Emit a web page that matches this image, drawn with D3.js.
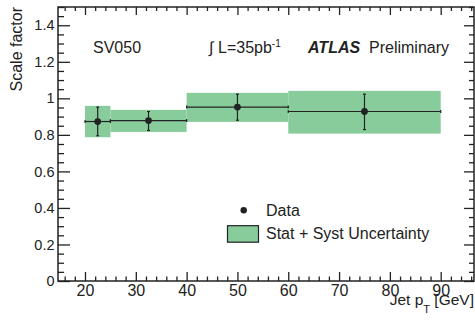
<!DOCTYPE html>
<html>
<head>
<meta charset="utf-8">
<script src="https://cdn.jsdelivr.net/npm/d3@7"></script>
<style>
  body { margin: 0; background: #fff; }
  svg text { font-family: "Liberation Sans", Arial, Helvetica, sans-serif; fill: #222; }
</style>
</head>
<body>
<div id="chart"></div>
<script>
// bins in jet pT [GeV]
var binLo = [20, 25, 40, 60];
var binHi = [25, 40, 60, 90];
var binCenter = [22.5, 32.5, 50, 75];
// scale factor and stat error bar ends
var scaleFactor = [0.873, 0.878, 0.952, 0.928];
var statHi = [0.952, 0.928, 1.023, 1.023];
var statLo = [0.795, 0.824, 0.880, 0.829];
// stat + syst band
var bandHi = [0.959, 0.937, 1.030, 1.041];
var bandLo = [0.787, 0.816, 0.871, 0.807];

var xTicks = [20, 30, 40, 50, 60, 70, 80, 90];
var yTicks = [0, 0.2, 0.4, 0.6, 0.8, 1, 1.2, 1.4];

var W = 475, H = 320;
// plot frame (note: "top" is reserved on window, so use other names)
var fLeft = 58, fRight = 474, fTop = 7, fBottom = 281;

var svg = d3.select("#chart").append("svg")
    .attr("width", W).attr("height", H);

var x = d3.scaleLinear().domain([20, 90]).range([85, 440.7]);
var y = d3.scaleLinear().domain([0, 1.5]).range([fBottom, fTop]);

var ink = "#222";
var green = "#88cc9c";

// minor tick values
var xMinor = d3.range(16, 97, 2).filter(function (d) { return d % 10 !== 0; });
var yMinor = d3.range(0, 1.51, 0.05).map(function (d) { return +d.toFixed(2); })
    .filter(function (d) { return Math.round(d * 100) % 20 !== 0; });

function styleAxis(g) {
    g.select(".domain").remove();
    g.selectAll("line").attr("stroke", ink).attr("stroke-width", 1.3);
}

// bottom axis
svg.append("g")
    .attr("transform", "translate(0," + fBottom + ")")
    .call(d3.axisBottom(x).tickValues(xTicks).tickSize(-9).tickPadding(4)
        .tickFormat(function (d) { return d; }))
    .call(styleAxis)
    .selectAll("text").attr("font-size", 16).attr("dy", "0.71em");
svg.append("g")
    .attr("transform", "translate(0," + fBottom + ")")
    .call(d3.axisBottom(x).tickValues(xMinor).tickSize(-4.5).tickFormat(""))
    .call(styleAxis);

// top axis
svg.append("g")
    .attr("transform", "translate(0," + fTop + ")")
    .call(d3.axisTop(x).tickValues(xTicks).tickSize(-8).tickFormat(""))
    .call(styleAxis);
svg.append("g")
    .attr("transform", "translate(0," + fTop + ")")
    .call(d3.axisTop(x).tickValues(xMinor).tickSize(-4).tickFormat(""))
    .call(styleAxis);

// left axis
svg.append("g")
    .attr("transform", "translate(" + fLeft + ",0)")
    .call(d3.axisLeft(y).tickValues(yTicks).tickSize(-12).tickPadding(3.5)
        .tickFormat(function (d) { return String(+d.toFixed(1)); }))
    .call(styleAxis)
    .selectAll("text").attr("font-size", 14.5);
svg.append("g")
    .attr("transform", "translate(" + fLeft + ",0)")
    .call(d3.axisLeft(y).tickValues(yMinor).tickSize(-6).tickFormat(""))
    .call(styleAxis);

// right axis
svg.append("g")
    .attr("transform", "translate(" + fRight + ",0)")
    .call(d3.axisRight(y).tickValues(yTicks).tickSize(-10).tickFormat(""))
    .call(styleAxis);
svg.append("g")
    .attr("transform", "translate(" + fRight + ",0)")
    .call(d3.axisRight(y).tickValues(yMinor).tickSize(-5).tickFormat(""))
    .call(styleAxis);

// frame
svg.append("rect")
    .attr("x", fLeft).attr("y", fTop)
    .attr("width", fRight - fLeft).attr("height", fBottom - fTop)
    .attr("fill", "none").attr("stroke", ink).attr("stroke-width", 1.5);

// uncertainty bands
var idx = d3.range(binLo.length);
svg.selectAll("rect.band")
    .data(idx).enter().append("rect")
    .attr("class", "band")
    .attr("x", function (i) { return x(binLo[i]); })
    .attr("width", function (i) { return x(binHi[i]) - x(binLo[i]); })
    .attr("y", function (i) { return y(bandHi[i]); })
    .attr("height", function (i) { return y(bandLo[i]) - y(bandHi[i]); })
    .attr("fill", green);

// horizontal bin-width bars
svg.selectAll("line.hbar")
    .data(idx).enter().append("line")
    .attr("class", "hbar")
    .attr("x1", function (i) { return x(binLo[i]); })
    .attr("x2", function (i) { return x(binHi[i]); })
    .attr("y1", function (i) { return y(scaleFactor[i]); })
    .attr("y2", function (i) { return y(scaleFactor[i]); })
    .attr("stroke", ink).attr("stroke-width", 1.2);

// small end marks at bin edges
[binLo, binHi].forEach(function (edge) {
    svg.selectAll(null)
        .data(idx).enter().append("line")
        .attr("x1", function (i) { return x(edge[i]); })
        .attr("x2", function (i) { return x(edge[i]); })
        .attr("y1", function (i) { return y(scaleFactor[i]) - 1.5; })
        .attr("y2", function (i) { return y(scaleFactor[i]) + 1.5; })
        .attr("stroke", ink).attr("stroke-width", 1.2);
});

// vertical stat error bars
svg.selectAll("line.vbar")
    .data(idx).enter().append("line")
    .attr("class", "vbar")
    .attr("x1", function (i) { return x(binCenter[i]); })
    .attr("x2", function (i) { return x(binCenter[i]); })
    .attr("y1", function (i) { return y(statHi[i]); })
    .attr("y2", function (i) { return y(statLo[i]); })
    .attr("stroke", ink).attr("stroke-width", 1.2);
[statHi, statLo].forEach(function (end) {
    svg.selectAll(null)
        .data(idx).enter().append("line")
        .attr("x1", function (i) { return x(binCenter[i]) - 1.5; })
        .attr("x2", function (i) { return x(binCenter[i]) + 1.5; })
        .attr("y1", function (i) { return y(end[i]); })
        .attr("y2", function (i) { return y(end[i]); })
        .attr("stroke", ink).attr("stroke-width", 1.2);
});

// points
svg.selectAll("circle.pt")
    .data(idx).enter().append("circle")
    .attr("class", "pt")
    .attr("cx", function (i) { return x(binCenter[i]); })
    .attr("cy", function (i) { return y(scaleFactor[i]); })
    .attr("r", 3.4)
    .attr("fill", ink);

// labels inside the plot
svg.append("text").attr("x", 93).attr("y", 52.5).attr("font-size", 16).text("SV050");

svg.append("text").attr("x", 209).attr("y", 52.5).attr("font-size", 16).text("\u222B");
var lumi = svg.append("text").attr("x", 218).attr("y", 52.5).attr("font-size", 16);
lumi.append("tspan").text("L=35pb");
lumi.append("tspan").attr("dy", -6).attr("font-size", 10).text("-1");

svg.append("text").attr("x", 308).attr("y", 52.5).attr("font-size", 16)
    .attr("font-weight", "bold").attr("font-style", "italic").text("ATLAS");
svg.append("text").attr("x", 369).attr("y", 52.5).attr("font-size", 16).text("Preliminary");

// legend
svg.append("circle").attr("cx", 243.7).attr("cy", 210.3).attr("r", 3.2).attr("fill", ink);
svg.append("text").attr("x", 266).attr("y", 215.5).attr("font-size", 16).text("Data");
svg.append("rect").attr("x", 227.5).attr("y", 225.7).attr("width", 31).attr("height", 16.5)
    .attr("fill", green).attr("stroke", ink).attr("stroke-width", 1.2);
svg.append("text").attr("x", 266).attr("y", 239.3).attr("font-size", 16).text("Stat + Syst Uncertainty");

// axis titles
svg.append("text")
    .attr("transform", "translate(22,7) rotate(-90)")
    .attr("text-anchor", "end")
    .attr("font-size", 16)
    .text("Scale factor");

var xt = svg.append("text").attr("x", 474).attr("y", 305).attr("text-anchor", "end").attr("font-size", 15.5);
xt.append("tspan").text("Jet p");
xt.append("tspan").attr("dy", 8).attr("font-size", 11).text("T");
xt.append("tspan").attr("dy", -8).text(" [GeV]");
</script>
</body>
</html>
